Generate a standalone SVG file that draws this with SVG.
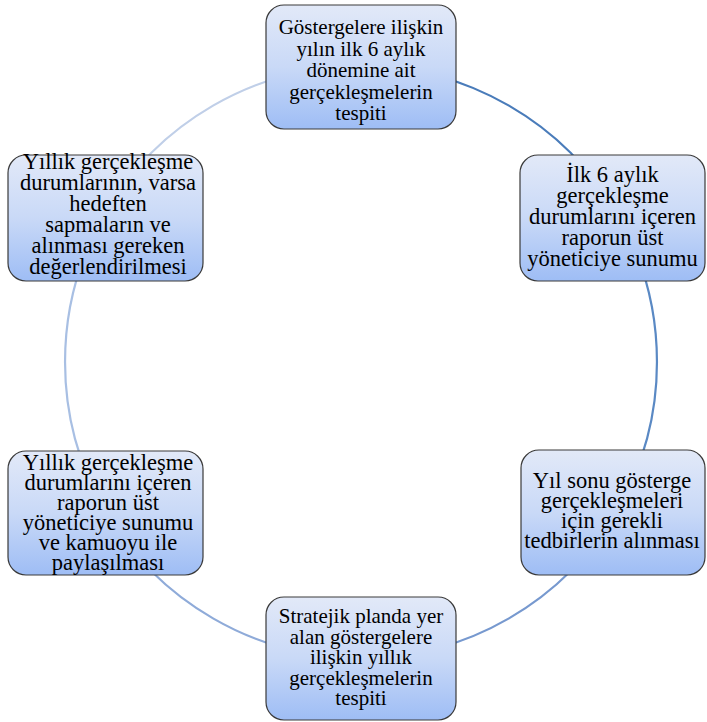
<svg xmlns="http://www.w3.org/2000/svg" width="707" height="722" viewBox="0 0 707 722">
<defs>
<linearGradient id="g" x1="0" y1="0" x2="0" y2="1">
<stop offset="0" stop-color="#e2e9f8"/>
<stop offset="0.5" stop-color="#c9d9f7"/>
<stop offset="1" stop-color="#9ebdf5"/>
</linearGradient>
<style>
.box{fill:url(#g);stroke:#3a3a3a;stroke-width:1.2}
.arc{fill:none;stroke-width:2.2}
text{font-family:"Liberation Serif","Times New Roman",serif;font-size:21px;fill:#000;text-anchor:middle}
.side text{font-size:22.5px}
</style>
</defs>
<rect width="707" height="722" fill="#fff"/>
<g id="connectors">
<path class="arc" stroke="#4a7cba" d="M361,66 A296,296 0 0 1 617.3,214"/>
<path class="arc" stroke="#5a89c4" d="M617.3,214 A296,296 0 0 1 617.3,510"/>
<path class="arc" stroke="#7799cf" d="M617.3,510 A296,296 0 0 1 361,658"/>
<path class="arc" stroke="#8fabd9" d="M361,658 A296,296 0 0 1 104.7,510"/>
<path class="arc" stroke="#a8bfe3" d="M104.7,510 A296,296 0 0 1 104.7,214"/>
<path class="arc" stroke="#c0cfe8" d="M104.7,214 A296,296 0 0 1 361,66"/>
</g>
<g id="n1">
<rect class="box" x="266" y="5" width="190" height="124" rx="18"/>
<text x="361" y="34">Göstergelere ilişkin</text>
<text x="361" y="55.5">yılın ilk 6 aylık</text>
<text x="361" y="77">dönemine ait</text>
<text x="361" y="98.5">gerçekleşmelerin</text>
<text x="361" y="120">tespiti</text>
</g>
<g id="n2" class="side">
<rect class="box" x="520" y="155" width="185" height="126" rx="18"/>
<text x="612.5" y="182">İlk 6 aylık</text>
<text x="612.5" y="203">gerçekleşme</text>
<text x="612.5" y="224">durumlarını içeren</text>
<text x="612.5" y="245">raporun üst</text>
<text x="612.5" y="266">yöneticiye sunumu</text>
</g>
<g id="n3" class="side">
<rect class="box" x="521" y="450" width="184" height="125" rx="18"/>
<text x="612" y="488">Yıl sonu gösterge</text>
<text x="612" y="508">gerçekleşmeleri</text>
<text x="612" y="528">için gerekli</text>
<text x="612" y="548">tedbirlerin alınması</text>
</g>
<g id="n4">
<rect class="box" x="266" y="597" width="190" height="123" rx="18"/>
<text x="361" y="623">Stratejik planda yer</text>
<text x="361" y="643.5">alan göstergelere</text>
<text x="361" y="664">ilişkin yıllık</text>
<text x="361" y="684.5">gerçekleşmelerin</text>
<text x="361" y="705">tespiti</text>
</g>
<g id="n5" class="side">
<rect class="box" x="8" y="451" width="195" height="124" rx="18"/>
<text x="108" y="470">Yıllık gerçekleşme</text>
<text x="108" y="490">durumlarını içeren</text>
<text x="108" y="510">raporun üst</text>
<text x="108" y="530">yöneticiye sunumu</text>
<text x="108" y="550">ve kamuoyu ile</text>
<text x="108" y="570">paylaşılması</text>
</g>
<g id="n6" class="side">
<rect class="box" x="8" y="155" width="195" height="126" rx="18"/>
<text x="108" y="169">Yıllık gerçekleşme</text>
<text x="108" y="190">durumlarının, varsa</text>
<text x="108" y="211">hedeften</text>
<text x="108" y="232">sapmaların ve</text>
<text x="108" y="253">alınması gereken</text>
<text x="108" y="274">değerlendirilmesi</text>
</g>
</svg>
